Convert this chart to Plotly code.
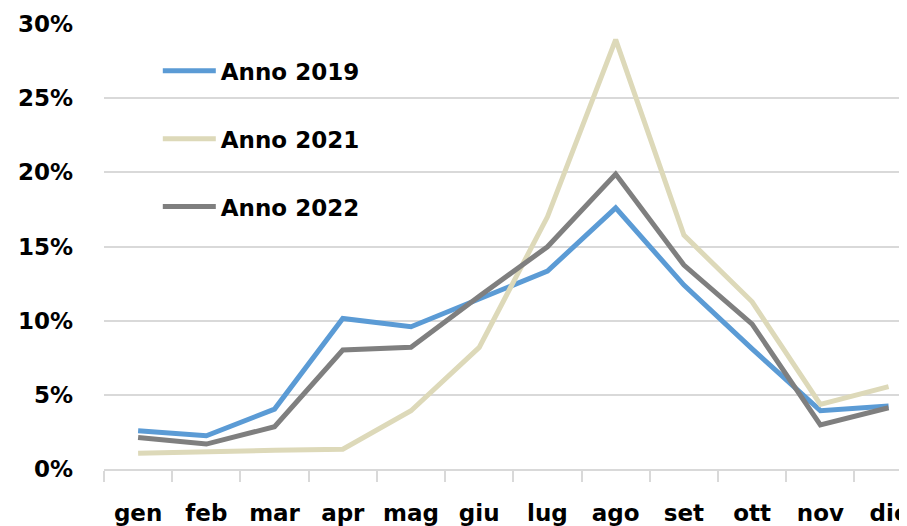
import plotly.graph_objects as go

months = ["gen", "feb", "mar", "apr", "mag", "giu", "lug", "ago", "set", "ott", "nov", "dic"]
anno_2019 = [2.58, 2.24, 4.04, 10.15, 9.59, 11.5, 13.34, 17.6, 12.4, 8.1, 3.93, 4.25]
anno_2021 = [1.06, 1.19, 1.26, 1.33, 3.93, 8.2, 17.0, 28.95, 15.77, 11.27, 4.36, 5.55]
anno_2022 = [2.13, 1.68, 2.85, 8.02, 8.2, 11.65, 14.98, 19.88, 13.75, 9.77, 2.97, 4.13]
y_ticks = [0, 5, 10, 15, 20, 25, 30]
y_ticklabels = ["0%", "5%", "10%", "15%", "20%", "25%", "30%"]

series = [
    ("Anno 2019", anno_2019, "#5B9BD5"),
    ("Anno 2021", anno_2021, "#DDD9B9"),
    ("Anno 2022", anno_2022, "#7F7F7F"),
]

font_family = "DejaVu Sans"

fig = go.Figure()
for i, (name, vals, col) in enumerate(series):
    fig.add_trace(go.Scatter(
        x=months, y=vals, name=name, mode="lines",
        line=dict(color=col, width=5), legendgroup=f"g{i}",
    ))

# page body has an 8px margin, so the figure is sized to end at the window edge
fig.update_layout(
    width=899, height=518,
    margin=dict(l=96, r=0, t=16, b=57, autoexpand=False),
    paper_bgcolor="white", plot_bgcolor="white",
    font=dict(family=font_family, size=23, color="#000000", weight="bold"),
    showlegend=True,
    legend=dict(
        x=0.067, y=0.943, xanchor="left", yanchor="top",
        traceorder="grouped", tracegroupgap=35,
        itemwidth=53, bgcolor="rgba(0,0,0,0)",
        font=dict(family=font_family, size=23, color="#000000", weight="bold"),
    ),
)
fig.update_xaxes(
    type="category", categoryorder="array", categoryarray=months,
    range=[-0.5, 11.27], showgrid=False, automargin=False,
    showline=True, linecolor="#D9D9D9", linewidth=1.5,
    ticks="outside", tickson="boundaries", ticklen=11, tickcolor="#D9D9D9", tickwidth=1.5,
    ticklabelstandoff=23, zeroline=False,
)
fig.update_yaxes(
    tickmode="array", tickvals=y_ticks, ticktext=y_ticklabels,
    range=[0, 30], showgrid=True, gridcolor="#D9D9D9", gridwidth=1.5, automargin=False,
    zeroline=False, showline=False, ticks="", ticklabelstandoff=30,
)

fig.write_html("out.html")
